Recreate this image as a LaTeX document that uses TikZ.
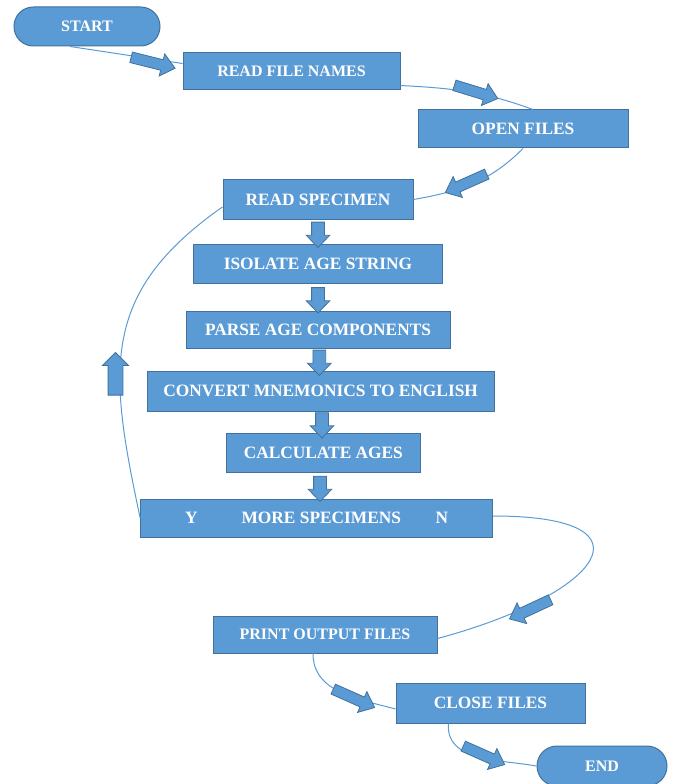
\documentclass[tikz,border=0pt]{standalone}
\usepackage{fontspec}
\setmainfont{Liberation Serif}
\usetikzlibrary{shapes.arrows, positioning}

\definecolor{boxfill}{HTML}{5B9BD5}
\definecolor{boxline}{HTML}{41719C}

\begin{document}
\begin{tikzpicture}[
    x=0.75pt, y=0.75pt,
    box/.style={rectangle, draw=boxline, fill=boxfill, line width=0.75pt, minimum height=29.25pt, inner sep=0pt, text=white, font=\fontsize{13}{15}\selectfont\bfseries},
    smallbox/.style={box, font=\fontsize{12}{14}\selectfont\bfseries},
    term/.style={smallbox, rounded corners=14.5pt},
    link/.style={draw=boxfill, line width=0.75pt},
    fatarrow/.style={single arrow, draw=boxline, fill=boxfill, line width=0.6pt, inner xsep=0pt, inner ysep=3.75pt, minimum height=34pt, minimum width=16.5pt, single arrow head extend=4.5pt, single arrow tip angle=80},
    downarrow/.style={fatarrow, minimum height=19pt, minimum width=17pt, inner ysep=4.5pt, single arrow head extend=4pt, single arrow tip angle=88, rotate=-90}
]
\useasboundingbox (0,0) rectangle (672,-784);

% Nodes
\node[term, minimum width=109.5pt] (start) at (87,-26.5) {START};
\node[smallbox, minimum width=162.75pt, minimum height=27.75pt] (names) at (291.5,-71.5) {READ FILE NAMES};
\node[box, minimum width=157.5pt, minimum height=28.5pt] (open) at (523,-129) {OPEN FILES};
\node[box, minimum width=142.5pt] (spec) at (318,-199.5) {READ SPECIMEN};
\node[box, minimum width=186.75pt, below=18pt of spec] (iso) {ISOLATE AGE STRING};
\node[box, minimum width=198pt, minimum height=27.75pt, below=20.25pt of iso] (parse) {PARSE AGE COMPONENTS};
\node[box, minimum width=260.25pt, minimum height=30pt, below=16.5pt of parse, xshift=2pt] (conv) {CONVERT MNEMONICS TO ENGLISH};
\node[box, minimum width=145.5pt, below=15.75pt of conv, xshift=2pt] (calc) {CALCULATE AGES};
\node[box, minimum width=264pt, minimum height=28.5pt, below=19.5pt of calc, xshift=-5pt] (more) {Y\hspace{33pt}MORE SPECIMENS\hspace{26pt}N};
\node[smallbox, minimum width=168pt, minimum height=27.75pt] (print) at (325,-634.5) {PRINT OUTPUT FILES};
\node[box, minimum width=141.75pt, minimum height=30pt] (close) at (490.5,-703) {CLOSE FILES};
\node[term, minimum width=97.5pt, minimum height=30pt, rounded corners=15pt] (end) at (602,-766) {END};

% Connections
\draw[link] ([xshift=-12.75pt]start.south) -- ([yshift=6pt]names.west);
\draw[link] ([yshift=-10.5pt]names.east) to[out=-3, in=160] ([xshift=7.5pt]open.north);
\draw[link] (open.south) to[out=-135, in=10] (spec.east);
\draw[link] (more.west) to[out=102, in=215, looseness=1.2] ([yshift=-5.6pt]spec.west);
\draw[link] ([yshift=1.5pt]more.east) to[out=0, in=15, looseness=3.2] ([yshift=-3pt]print.east);
\draw[link] ([xshift=-9pt]print.south) to[out=-90, in=165] ([yshift=-4.5pt]close.west);
\draw[link] ([xshift=-31.5pt]close.south) to[out=-95, in=170] (end.west);

% Block arrows
\node[fatarrow, rotate=-14] (a1) at (150,-62) {};
\node[fatarrow, rotate=-17] (a2) at (473,-91) {};
\node[fatarrow, rotate=-156] (a3) at (469,-182) {};
\node[fatarrow, rotate=90, minimum height=32pt, minimum width=19pt, inner ysep=5.25pt, single arrow head extend=4.25pt, single arrow tip angle=90] (aback) at (115.5,-377.5) {};
\node[fatarrow, rotate=-155] (a6) at (533,-608) {};
\node[fatarrow, rotate=-24] (a7) at (351,-697) {};
\node[fatarrow, rotate=-24] (a8) at (481,-754) {};
\path (spec.south) -- node[downarrow] (d1) {} (iso.north);
\path (iso.south) -- node[downarrow] (d2) {} (parse.north);
\path (parse.south) -- node[downarrow] (d3) {} (conv.north);
\path (conv.south) -- node[downarrow] (d4) {} (calc.north);
\path (calc.south) -- node[downarrow] (d5) {} (more.north);

\end{tikzpicture}
\end{document}
